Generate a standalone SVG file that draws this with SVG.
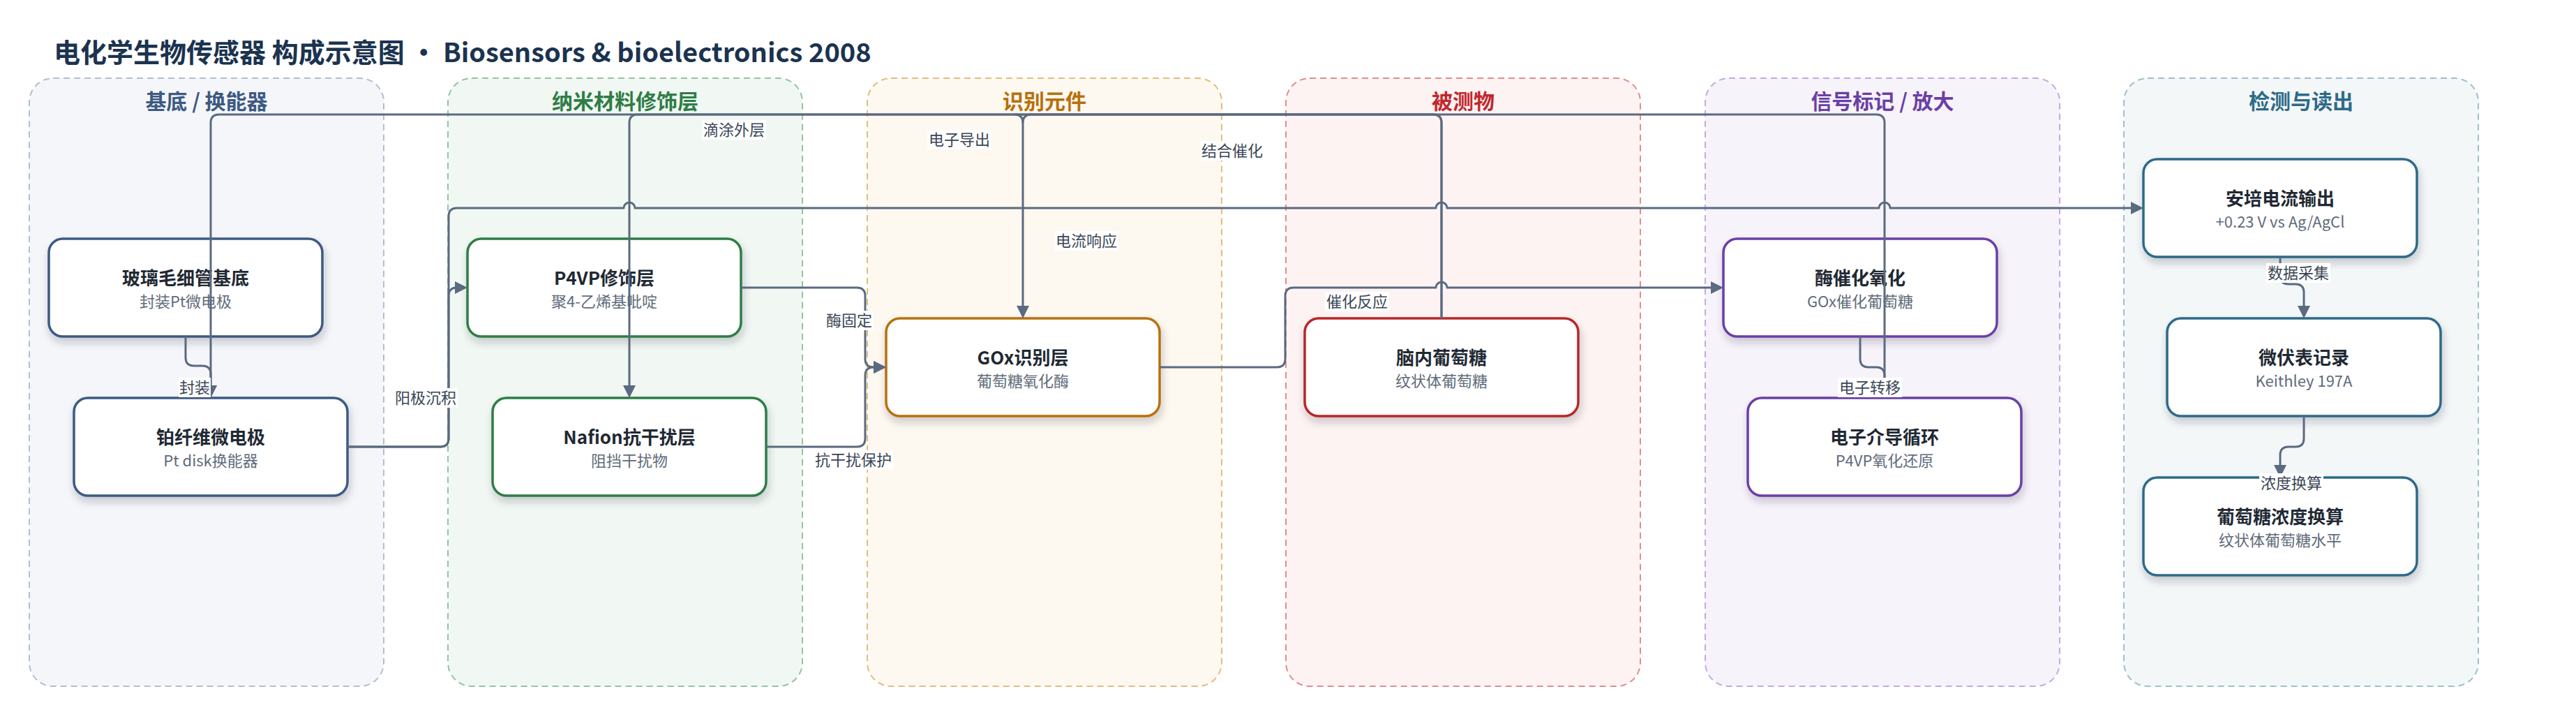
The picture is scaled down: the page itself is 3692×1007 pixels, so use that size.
<svg xmlns="http://www.w3.org/2000/svg" width="3692" height="1007" viewBox="0 0 3692 1007">
<defs>
<filter id="sh" x="-10%" y="-20%" width="120%" height="150%">
<feDropShadow dx="2" dy="7" stdDeviation="6" flood-color="#1e2a3a" flood-opacity="0.22"/>
</filter>
<marker id="ar" markerUnits="userSpaceOnUse" markerWidth="20" markerHeight="20" refX="10" refY="9" orient="auto">
<path d="M0,0 L18,9 L0,18 Z" fill="#5a6a80"/>
</marker>
<style>
text{font-family:"Noto Sans CJK SC","Noto Sans",sans-serif;}
.title{font-size:38px;font-weight:700;fill:#1b3350;}
.lane{stroke-width:2;stroke-dasharray:9 6;}
.lt{font-size:30px;font-weight:700;text-anchor:middle;}
.box{fill:#ffffff;stroke-width:3.5;filter:url(#sh);}
.nt{font-size:26px;font-weight:700;fill:#1f2933;text-anchor:middle;}
.ns{font-size:22px;fill:#5f6b7a;text-anchor:middle;}
.e{fill:none;stroke:#5a6a80;stroke-width:3;stroke-linejoin:round;}
.ea{marker-end:url(#ar);}
.lb{fill:#ffffff;}
.lx{font-size:22px;fill:#3a4656;text-anchor:middle;}
</style>
</defs>
<rect width="3692" height="1007" fill="#ffffff"/>
<text class="title" x="77" y="89">电化学生物传感器 构成示意图 · Biosensors &amp; bioelectronics 2008</text>

<g id="lanes">
<rect class="lane" x="42" y="112" width="508" height="871" rx="34" fill="#f4f6fa" stroke="#b3bfd0"/>
<text class="lt" x="296" y="156" fill="#3d5a82">基底 / 换能器</text>
<rect class="lane" x="642" y="112" width="508" height="871" rx="34" fill="#f1f8f3" stroke="#93c4a2"/>
<text class="lt" x="896" y="156" fill="#2e7d46">纳米材料修饰层</text>
<rect class="lane" x="1243" y="112" width="508" height="871" rx="34" fill="#fdf8f0" stroke="#e2bd80"/>
<text class="lt" x="1497" y="156" fill="#b8700c">识别元件</text>
<rect class="lane" x="1843" y="112" width="508" height="871" rx="34" fill="#fdf3f3" stroke="#e08e8e"/>
<text class="lt" x="2097" y="156" fill="#c0282d">被测物</text>
<rect class="lane" x="2444" y="112" width="508" height="871" rx="34" fill="#f7f3fb" stroke="#c4aae0"/>
<text class="lt" x="2698" y="156" fill="#6a3fa5">信号标记 / 放大</text>
<rect class="lane" x="3044" y="112" width="508" height="871" rx="34" fill="#f3f7f8" stroke="#9fbfcc"/>
<text class="lt" x="3298" y="156" fill="#2e6a88">检测与读出</text>
</g>

<g id="n-glass">
<rect class="box" x="70" y="342" width="392" height="140" rx="20" stroke="#3d5a82"/>
<text class="nt" x="266" y="408">玻璃毛细管基底</text>
<text class="ns" x="266" y="440">封装Pt微电极</text>
</g>
<g id="n-pt">
<rect class="box" x="106" y="570" width="392" height="140" rx="20" stroke="#3d5a82"/>
<text class="nt" x="302" y="636">铂纤维微电极</text>
<text class="ns" x="302" y="668">Pt disk换能器</text>
</g>
<g id="n-p4vp">
<rect class="box" x="670" y="342" width="392" height="140" rx="20" stroke="#2e7d46"/>
<text class="nt" x="866" y="408">P4VP修饰层</text>
<text class="ns" x="866" y="440">聚4-乙烯基吡啶</text>
</g>
<g id="n-nafion">
<rect class="box" x="706" y="570" width="392" height="140" rx="20" stroke="#2e7d46"/>
<text class="nt" x="902" y="636">Nafion抗干扰层</text>
<text class="ns" x="902" y="668">阻挡干扰物</text>
</g>
<g id="n-gox">
<rect class="box" x="1270" y="456" width="392" height="140" rx="20" stroke="#b8700c"/>
<text class="nt" x="1466" y="522">GOx识别层</text>
<text class="ns" x="1466" y="554">葡萄糖氧化酶</text>
</g>
<g id="n-glucose">
<rect class="box" x="1870" y="456" width="392" height="140" rx="20" stroke="#b8282a"/>
<text class="nt" x="2066" y="522">脑内葡萄糖</text>
<text class="ns" x="2066" y="554">纹状体葡萄糖</text>
</g>
<g id="n-enz">
<rect class="box" x="2470" y="342" width="392" height="140" rx="20" stroke="#6a3fa5"/>
<text class="nt" x="2666" y="408">酶催化氧化</text>
<text class="ns" x="2666" y="440">GOx催化葡萄糖</text>
</g>
<g id="n-med">
<rect class="box" x="2505" y="570" width="392" height="140" rx="20" stroke="#6a3fa5"/>
<text class="nt" x="2701" y="636">电子介导循环</text>
<text class="ns" x="2701" y="668">P4VP氧化还原</text>
</g>
<g id="n-amp">
<rect class="box" x="3072" y="228" width="392" height="140" rx="20" stroke="#2e6a88"/>
<text class="nt" x="3268" y="294">安培电流输出</text>
<text class="ns" x="3268" y="326">+0.23 V vs Ag/AgCl</text>
</g>
<g id="n-meter">
<rect class="box" x="3106" y="456" width="392" height="140" rx="20" stroke="#2e6a88"/>
<text class="nt" x="3302" y="522">微伏表记录</text>
<text class="ns" x="3302" y="554">Keithley 197A</text>
</g>
<g id="n-conc">
<rect class="box" x="3072" y="684" width="392" height="140" rx="20" stroke="#2e6a88"/>
<text class="nt" x="3268" y="750">葡萄糖浓度换算</text>
<text class="ns" x="3268" y="782">纹状体葡萄糖水平</text>
</g>

<g id="connectors">
<path class="e ea" d="M266,482 V512 Q266,524 278,524 H290 Q302,524 302,536 V562"/>
<path class="e ea" d="M498,640 H631 Q643,640 643,628 V424 Q643,412 655,412 H662"/>
<path class="e ea" d="M498,640 H631 Q643,640 643,628 V310 Q643,298 655,298 H894 A8,8 0 0 1 910,298 H2058 A8,8 0 0 1 2074,298 H2693 A8,8 0 0 1 2709,298 H3064"/>
<path class="e ea" d="M1062,412 H1228 Q1240,412 1240,424 V514 Q1240,526 1252,526 H1262"/>
<path class="e ea" d="M1098,640 H1228 Q1240,640 1240,628 V538 Q1240,526 1252,526 H1262"/>
<path class="e ea" d="M1662,526 H1830 Q1842,526 1842,514 V424 Q1842,412 1854,412 H2058 A8,8 0 0 1 2074,412 H2462"/>
<path class="e ea" d="M2666,482 V514 Q2666,526 2678,526 H2689 Q2701,526 2701,538 V562"/>
<path class="e ea" d="M2701,570 V176 Q2701,164 2689,164 H314 Q302,164 302,176 V562"/>
<path class="e ea" d="M2066,456 V176 Q2066,164 2054,164 H914 Q902,164 902,176 V562"/>
<path class="e ea" d="M2066,456 V176 Q2066,164 2054,164 H1478 Q1466,164 1466,176 V448"/>
<path class="e" d="M1454,164 Q1466,164 1466,176"/>
<path class="e ea" d="M3268,368 V395 Q3268,407 3280,407 H3290 Q3302,407 3302,419 V448"/>
<path class="e ea" d="M3302,596 V628 Q3302,640 3290,640 H3280 Q3268,640 3268,652 V676"/>

<rect class="lb" x="256" y="541" width="46" height="28"/>
<text class="lx" x="279" y="563">封装</text>
<rect class="lb" x="564" y="556" width="92" height="28"/>
<text class="lx" x="610" y="578">阳极沉积</text>
<rect class="lb" x="1006" y="172" width="92" height="28"/>
<text class="lx" x="1052" y="194">滴涂外层</text>
<rect class="lb" x="1182" y="445" width="70" height="28"/>
<text class="lx" x="1217" y="467">酶固定</text>
<rect class="lb" x="1166" y="645" width="114" height="28"/>
<text class="lx" x="1223" y="667">抗干扰保护</text>
<rect class="lb" x="1329" y="186" width="92" height="28"/>
<text class="lx" x="1375" y="208">电子导出</text>
<rect class="lb" x="1720" y="202" width="92" height="28"/>
<text class="lx" x="1766" y="224">结合催化</text>
<rect class="lb" x="1511" y="331" width="92" height="28"/>
<text class="lx" x="1557" y="353">电流响应</text>
<rect class="lb" x="1899" y="418" width="92" height="28"/>
<text class="lx" x="1945" y="440">催化反应</text>
<rect class="lb" x="2634" y="541" width="92" height="28"/>
<text class="lx" x="2680" y="563">电子转移</text>
<rect class="lb" x="3248" y="377" width="92" height="28"/>
<text class="lx" x="3294" y="399">数据采集</text>
<rect class="lb" x="3238" y="678" width="92" height="28"/>
<text class="lx" x="3284" y="700">浓度换算</text>
</g>
</svg>
